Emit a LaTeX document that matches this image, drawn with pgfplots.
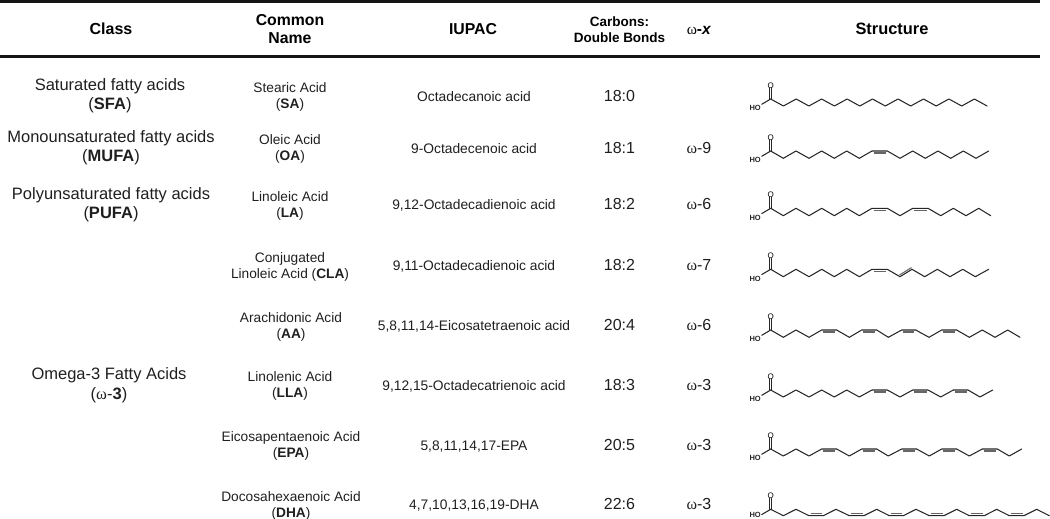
\documentclass[border=0pt]{standalone}
\usepackage{pgfplots}
\pgfplotsset{compat=1.18}
\usepackage{fontspec}
\setmainfont{Liberation Sans}
\newfontfamily\greek{Liberation Serif}

% one straight stroke in pixel coordinates of the reference
\newcommand{\bond}[4]{\addplot[bondline] coordinates {(#1,#2) (#3,#4)};}
\newcommand{\inner}[4]{\addplot[innerline] coordinates {(#1,#2) (#3,#4)};}
\newcommand{\tx}[4]{\node[anchor=mid,yshift={-0.2*#1},font=\fontsize{#1}{#1}\selectfont,text=black!88] at (axis cs:#2,#3) {#4};}
\newcommand{\hd}[4]{\node[anchor=mid,yshift={-0.2*#1},font=\fontsize{#1}{#1}\selectfont\bfseries,text=black] at (axis cs:#2,#3) {#4};}
% the two labels of the acid group: y of O, y of HO
\newcommand{\labels}[2]{%
  \node[anchor=mid,yshift=-1.5,font=\fontsize{7.5}{7.5}\selectfont\bfseries,text=black!85,inner sep=0pt] at (axis cs:755.2,#2) {HO};
  \node[anchor=mid,yshift=-1.5,font=\fontsize{8}{8}\selectfont,text=black,inner sep=0pt] at (axis cs:770.7,#1) {O};}

\begin{document}
\begin{tikzpicture}
\path[use as bounding box] (0,0) rectangle (1050pt,519pt);
\begin{axis}[
    at={(0,0)}, anchor=south west,
    scale only axis,
    width=1050pt, height=519pt,
    xmin=0, xmax=1050,
    ymin=0, ymax=519,
    y dir=reverse,
    hide axis,
    clip=false,
    bondline/.style={line width=1.05pt, black!85, no markers, line cap=round, line join=round},
    innerline/.style={line width=1.05pt, black!60, no markers},
]
% rules
\addplot[line width=3pt, black!92, no markers] coordinates {(0,1.5) (1040,1.5)};
\addplot[line width=3pt, black!92, no markers] coordinates {(0,56.5) (1040,56.5)};

% header
\hd{16}{111}{29}{Class}
\hd{15.8}{290}{20}{Common}
\hd{15.8}{290}{38}{Name}
\hd{15.8}{473}{29}{IUPAC}
\hd{13.5}{619.5}{21}{Carbons:}
\hd{13.5}{619.5}{37}{Double Bonds}
\node[anchor=mid,yshift=-3,font=\fontsize{15.5}{15.5}\selectfont\bfseries] at (axis cs:699,29) {{\greek\mdseries ω}-\textit{x}};
\hd{16.4}{892}{29}{Structure}

% class column
\tx{16.5}{110}{85}{Saturated fatty acids}
\tx{16.5}{110}{104}{(\textbf{SFA})}
\tx{16.5}{111}{137}{Monounsaturated fatty acids}
\tx{16.5}{111}{156}{(\textbf{MUFA})}
\tx{16.5}{111}{194}{Polyunsaturated fatty acids}
\tx{16.5}{111}{213}{(\textbf{PUFA})}
\tx{16.5}{109}{374}{Omega-3 Fatty Acids}
\tx{16.5}{109}{394}{({\greek ω}-\textbf{3})}

% common name column
\tx{13.7}{290}{87}{Stearic Acid}
\tx{13.7}{290}{103}{(\textbf{SA})}
\tx{13.7}{290}{139}{Oleic Acid}
\tx{13.7}{290}{155}{(\textbf{OA})}
\tx{13.7}{290}{196}{Linoleic Acid}
\tx{13.7}{290}{212}{(\textbf{LA})}
\tx{13.7}{290}{257}{Conjugated}
\tx{13.7}{290}{273}{Linoleic Acid (\textbf{CLA})}
\tx{13.7}{291}{317}{Arachidonic Acid}
\tx{13.7}{291}{333}{(\textbf{AA})}
\tx{13.7}{290}{376}{Linolenic Acid}
\tx{13.7}{290}{392}{(\textbf{LLA})}
\tx{13.7}{291}{436}{Eicosapentaenoic Acid}
\tx{13.7}{291}{452}{(\textbf{EPA})}
\tx{13.7}{291}{496}{Docosahexaenoic Acid}
\tx{13.7}{291}{512}{(\textbf{DHA})}

% IUPAC column
\tx{13.8}{474}{96}{Octadecanoic acid}
\tx{13.8}{474}{148}{9-Octadecenoic acid}
\tx{13.8}{474}{204}{9,12-Octadecadienoic acid}
\tx{13.8}{474}{265}{9,11-Octadecadienoic acid}
\tx{13.8}{474}{325}{5,8,11,14-Eicosatetraenoic acid}
\tx{13.8}{474}{385}{9,12,15-Octadecatrienoic acid}
\tx{13.8}{474}{445}{5,8,11,14,17-EPA}
\tx{13.8}{474}{504}{4,7,10,13,16,19-DHA}

% carbons : double bonds
\tx{16}{619.5}{96}{18:0}
\tx{16}{619.5}{148}{18:1}
\tx{16}{619.5}{204}{18:2}
\tx{16}{619.5}{265}{18:2}
\tx{16}{619.5}{325}{20:4}
\tx{16}{619.5}{385}{18:3}
\tx{16}{619.5}{445}{20:5}
\tx{16}{619.5}{504}{22:6}

% omega-x
\tx{16}{699}{148}{{\greek ω}-9}
\tx{16}{699}{204}{{\greek ω}-6}
\tx{16}{699}{265}{{\greek ω}-7}
\tx{16}{699}{325}{{\greek ω}-6}
\tx{16}{699}{385}{{\greek ω}-3}
\tx{16}{699}{445}{{\greek ω}-3}
\tx{16}{699}{504}{{\greek ω}-3}

% stearic acid
\addplot[bondline] coordinates {(770.7,99) (783.4,106) (796.2,99) (808.9,106) (821.6,99) (834.4,106) (847.1,99) (859.8,106) (872.5,99) (885.3,106) (898.0,99) (910.7,106) (923.5,99) (936.2,106) (948.9,99) (961.7,106) (974.4,99) (987.1,106)};
\bond{770.7}{99}{761.7}{104.3}
\bond{769.7}{99}{769.7}{88}
\bond{771.7}{99}{771.7}{88}
\labels{84.3}{106.7}

% oleic acid
\addplot[bondline] coordinates {(770.7,151) (783.3,158.3) (796,151) (809,158.3) (821.7,151) (834.3,158.3) (846.7,151) (859.3,158.3) (872,151) (887.3,151) (900,158.3) (912.7,151) (925.3,158.3) (938,151) (950.7,158.3) (963.3,151) (976,158.3) (988.7,151)};
\inner{873.5}{153}{885.8}{153}
\bond{770.7}{151}{761.7}{156.3}
\bond{769.7}{151}{769.7}{140}
\bond{771.7}{151}{771.7}{140}
\labels{136.3}{158.7}

% linoleic acid
\addplot[bondline] coordinates {(770.7,208.3) (783.3,215.7) (796,208.3) (809,215.7) (821.7,208.3) (834.3,215.7) (846.7,208.3) (859.3,215.7) (872,208.3) (887.3,208.3) (900,215.7) (912.7,208.3) (928,208.3) (940.7,215.7) (953.3,208.3) (966,215.7) (978.7,208.3) (990.7,215.7)};
\inner{873.5}{210.3}{885.8}{210.3}
\inner{914.2}{210.3}{926.5}{210.3}
\bond{770.7}{208.3}{761.7}{213.6}
\bond{769.7}{208.3}{769.7}{197.3}
\bond{771.7}{208.3}{771.7}{197.3}
\labels{193.6}{216}

% conjugated linoleic acid
\addplot[bondline] coordinates {(770.7,269.3) (783.3,276.7) (796,269.3) (809,276.7) (821.7,269.3) (834.3,276.7) (846.7,269.3) (859.3,276.7) (872,269.3) (887.3,269.3) (900,276.7) (912,269.3) (924.7,276.7) (937.3,269.3) (950,276.7) (962.7,269.3) (975.3,276.7) (988.7,269.3)};
\inner{873.5}{271.3}{885.8}{271.3}
\inner{899.5}{275}{911.5}{267.6}
\bond{770.7}{269.3}{761.7}{274.6}
\bond{769.7}{269.3}{769.7}{258.3}
\bond{771.7}{269.3}{771.7}{258.3}
\labels{254.6}{277}

% arachidonic acid
\addplot[bondline] coordinates {(770.7,330) (783.3,337.3) (796,330) (809,337.3) (821.7,330) (836.7,330) (849.3,337.3) (861.7,330) (876.7,330) (888.3,337.3) (901.7,330) (915.7,330) (929,337.3) (941.7,330) (956.7,330) (969.3,337.3) (982.3,330) (995,337.3) (1007.7,330) (1020,337.3)};
\inner{823.2}{332}{835.2}{332}
\inner{863.2}{332}{875.2}{332}
\inner{903.2}{332}{914.2}{332}
\inner{943.2}{332}{955.2}{332}
\bond{770.7}{330}{761.7}{335.3}
\bond{769.7}{330}{769.7}{319}
\bond{771.7}{330}{771.7}{319}
\labels{315.3}{337.7}

% linolenic acid
\addplot[bondline] coordinates {(770.7,390) (783.3,397) (796,390) (809,397) (821.7,390) (834.3,397) (846.7,390) (859.3,397) (872,390) (887.3,390) (900,397) (912.7,390) (928,390) (940.7,397) (953.3,390) (968,390) (980,397) (992.7,390)};
\inner{873.5}{392}{885.8}{392}
\inner{914.2}{392}{926.5}{392}
\inner{954.8}{392}{966.5}{392}
\bond{770.7}{390}{761.7}{395.3}
\bond{769.7}{390}{769.7}{379}
\bond{771.7}{390}{771.7}{379}
\labels{375.3}{397.7}

% EPA
\addplot[bondline] coordinates {(770.7,449) (783.3,456) (796,449) (809,456) (821.7,449) (836.7,449) (849.3,456) (861.7,449) (876.7,449) (888.3,456) (901.7,449) (916.7,449) (929.3,456) (941.7,449) (956.7,449) (969.3,456) (982.3,449) (997.3,449) (1009.3,456) (1021.7,449)};
\inner{823.2}{451}{835.2}{451}
\inner{863.2}{451}{875.2}{451}
\inner{903.2}{451}{915.2}{451}
\inner{943.2}{451}{955.2}{451}
\inner{983.8}{451}{995.8}{451}
\bond{770.7}{449}{761.7}{454.3}
\bond{769.7}{449}{769.7}{438}
\bond{771.7}{449}{771.7}{438}
\labels{434.3}{456.7}

% DHA
\addplot[bondline] coordinates {(770.7,509.3) (783.3,515.7) (796,509.3) (809,515.7) (823.3,515.7) (836,509.3) (849.3,515.7) (864,515.7) (876.7,509.3) (889.3,515.7) (903.3,515.7) (916,509.3) (929.3,515.7) (944,515.7) (956.7,509.3) (969.3,515.7) (984.3,515.7) (996.7,509.3) (1009.3,515.7) (1024,515.7) (1036.7,509.3) (1049.3,515.7)};
\inner{810.5}{513.7}{821.8}{513.7}
\inner{850.8}{513.7}{862.5}{513.7}
\inner{890.8}{513.7}{901.8}{513.7}
\inner{930.8}{513.7}{942.5}{513.7}
\inner{970.8}{513.7}{982.8}{513.7}
\inner{1010.8}{513.7}{1022.5}{513.7}
\bond{770.7}{509.3}{761.7}{514.6}
\bond{769.7}{509.3}{769.7}{498.3}
\bond{771.7}{509.3}{771.7}{498.3}
\labels{494.6}{513.8}
\end{axis}
\end{tikzpicture}
\end{document}
